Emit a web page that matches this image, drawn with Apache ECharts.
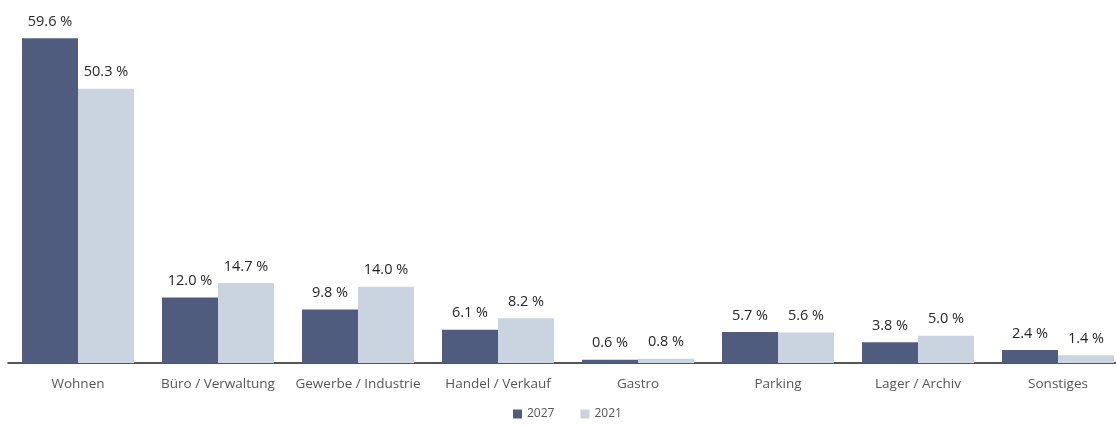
<!DOCTYPE html>
<html>
<head>
<meta charset="utf-8">
<script src="https://cdn.jsdelivr.net/npm/echarts@6/dist/echarts.min.js"></script>
<style>
  html, body { margin: 0; padding: 0; background: #fff; overflow: hidden; width: 1116px; height: 426px; }
  /* the plot runs slightly past the right edge of the page, so the canvas is a bit wider */
  #chart { width: 1130px; height: 426px; }
</style>
</head>
<body>
<div id="chart"></div>
<script>
// Flächennutzung nach Kategorie, Anteile in Prozent
const categories = ['Wohnen', 'Büro / Verwaltung', 'Gewerbe / Industrie', 'Handel / Verkauf', 'Gastro', 'Parking', 'Lager / Archiv', 'Sonstiges'];
const values2027 = [59.6, 12.0, 9.8, 6.1, 0.6, 5.7, 3.8, 2.4];
const values2021 = [50.3, 14.7, 14.0, 8.2, 0.8, 5.6, 5.0, 1.4];
const seriesNames = ['2027', '2021'];

const FONT = '"Open Sans", Lato, sans-serif';

const labelStyle = {
  show: true,
  position: 'top',
  distance: 9,
  color: '#262626',
  fontFamily: FONT,
  fontSize: 14.5,
  formatter: p => p.value.toFixed(1) + ' %'
};

const chart = echarts.init(document.getElementById('chart'), null, { renderer: 'canvas' });
chart.setOption({
  animation: false,
  backgroundColor: '#ffffff',
  grid: { left: 8, right: 2, top: 36, bottom: 63, containLabel: false },
  legend: {
    bottom: 1,
    left: 508,
    itemWidth: 9,
    itemHeight: 9,
    itemGap: 26,
    icon: 'rect',
    textStyle: { color: '#555', fontFamily: FONT, fontSize: 12 },
    data: seriesNames
  },
  xAxis: {
    type: 'category',
    data: categories,
    axisLine: { show: true, lineStyle: { color: '#1f1f1f', width: 1.5 } },
    axisTick: { show: false },
    axisLabel: { color: '#555', fontFamily: FONT, fontSize: 13.5, margin: 14, interval: 0 }
  },
  yAxis: {
    type: 'value',
    min: 0,
    max: 60,
    show: false,
    splitLine: { show: false }
  },
  series: [
    {
      name: seriesNames[0],
      type: 'bar',
      data: values2027,
      barGap: '0%',
      barCategoryGap: '20%',
      itemStyle: { color: '#4f5c7e' },
      label: labelStyle
    },
    {
      name: seriesNames[1],
      type: 'bar',
      data: values2021,
      barGap: '0%',
      barCategoryGap: '20%',
      itemStyle: { color: '#c9d4e0' },
      label: labelStyle
    }
  ]
});
</script>
</body>
</html>
